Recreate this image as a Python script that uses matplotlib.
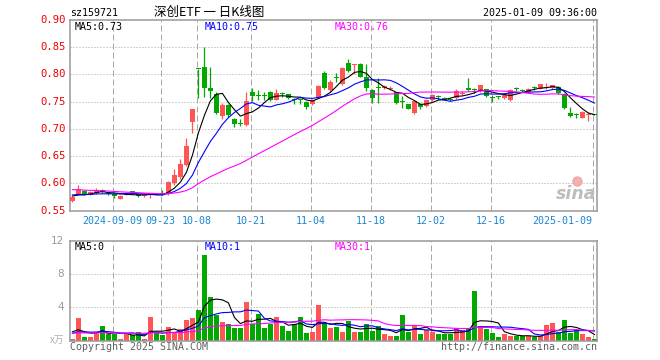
import numpy as np
import pandas as pd
import matplotlib
matplotlib.use('Agg')
import matplotlib.pyplot as plt

# daily K-line data, 159721
dates = [
    '2024-08-29', '2024-08-30', '2024-09-02', '2024-09-03', '2024-09-04', '2024-09-05', '2024-09-06',
    '2024-09-09', '2024-09-10', '2024-09-11', '2024-09-12', '2024-09-13', '2024-09-18', '2024-09-19',
    '2024-09-20', '2024-09-23', '2024-09-24', '2024-09-25', '2024-09-26', '2024-09-27', '2024-09-30',
    '2024-10-08', '2024-10-09', '2024-10-10', '2024-10-11', '2024-10-14', '2024-10-15', '2024-10-16',
    '2024-10-17', '2024-10-18', '2024-10-21', '2024-10-22', '2024-10-23', '2024-10-24', '2024-10-25',
    '2024-10-28', '2024-10-29', '2024-10-30', '2024-10-31', '2024-11-01', '2024-11-04', '2024-11-05',
    '2024-11-06', '2024-11-07', '2024-11-08', '2024-11-11', '2024-11-12', '2024-11-13', '2024-11-14',
    '2024-11-15', '2024-11-18', '2024-11-19', '2024-11-20', '2024-11-21', '2024-11-22', '2024-11-25',
    '2024-11-26', '2024-11-27', '2024-11-28', '2024-11-29', '2024-12-02', '2024-12-03', '2024-12-04',
    '2024-12-05', '2024-12-06', '2024-12-09', '2024-12-10', '2024-12-11', '2024-12-12', '2024-12-13',
    '2024-12-16', '2024-12-17', '2024-12-18', '2024-12-19', '2024-12-20', '2024-12-23', '2024-12-24',
    '2024-12-25', '2024-12-26', '2024-12-27', '2024-12-30', '2024-12-31', '2025-01-02', '2025-01-03',
    '2025-01-06', '2025-01-07', '2025-01-08', '2025-01-09',
]

opens = [
    .568, .579, .587, .579, .582, .588, .583, .580, .572, .579,
    .586, .580, .577, .578, .581, .581, .580, .600, .611, .634,
    .712, .810, .814, .775, .765, .723, .744, .718, .710, .707,
    .767, .762, .761, .767, .754, .765, .764, .754, .754, .750,
    .745, .757, .802, .772, .795, .782, .821, .818, .820, .795,
    .771, .777, .776, .774, .767, .750, .745, .730, .745, .742,
    .754, .760, .756, .755, .757, .765, .776, .772, .770, .773,
    .757, .759, .757, .754, .774, .771, .767, .777, .774, .775,
    .775, .777, .765, .730, .726, .721, .726, .726,
]
highs = [
    .576, .598, .588, .586, .592, .589, .584, .581, .578, .583,
    .587, .581, .580, .582, .582, .588, .604, .626, .645, .684,
    .737, .810, .851, .814, .767, .747, .746, .720, .718, .768,
    .775, .772, .768, .770, .773, .767, .765, .757, .757, .751,
    .755, .780, .806, .790, .802, .813, .829, .820, .821, .820,
    .773, .793, .781, .778, .768, .760, .746, .752, .748, .755,
    .764, .762, .758, .757, .774, .769, .794, .776, .781, .774,
    .762, .761, .764, .773, .777, .773, .775, .779, .783, .785,
    .781, .779, .766, .740, .730, .733, .731, .727,
]
lows = [
    .566, .578, .579, .578, .581, .583, .579, .573, .571, .578,
    .580, .576, .576, .574, .578, .578, .579, .598, .609, .632,
    .692, .756, .758, .756, .727, .718, .722, .704, .706, .706,
    .751, .754, .754, .752, .753, .758, .755, .745, .745, .737,
    .744, .756, .773, .768, .786, .780, .805, .801, .795, .770,
    .748, .748, .774, .772, .745, .739, .736, .727, .736, .740,
    .751, .755, .753, .752, .755, .763, .769, .766, .768, .758,
    .750, .755, .755, .752, .770, .767, .766, .772, .773, .773,
    .774, .765, .737, .722, .721, .720, .715, .725,
]
closes = [
    .575, .590, .580, .584, .588, .584, .580, .577, .577, .582,
    .581, .577, .579, .580, .579, .580, .603, .615, .635, .669,
    .736, .8095, .775, .769, .729, .744, .726, .710, .709, .752,
    .760, .761, .760, .754, .766, .764, .756, .753, .753, .740,
    .754, .779, .776, .787, .794, .812, .807, .819, .796, .776,
    .756, .776, .779, .776, .748, .749, .737, .751, .740, .753,
    .762, .759, .755, .754, .769, .766, .771, .771, .780, .760,
    .756, .758, .762, .771, .773, .770, .774, .776, .782, .777,
    .780, .766, .739, .724, .725, .731, .727, .725,
]
volumes = [
    0.2, 2.7, 0.4, 0.4, 0.8, 1.8, 0.85, 0.85, 0.15, 0.8,
    0.65, 1.1, 0.15, 2.9, 0.9, 0.65, 1.7, 0.9, 1.45, 2.5,
    2.67, 3.7, 10.3, 5.2, 3.1, 2.2, 1.95, 1.5, 1.5, 4.7,
    2.0, 3.15, 1.55, 2.0, 2.8, 1.75, 1.2, 1.95, 2.8, 0.97,
    1.05, 4.25, 2.0, 1.5, 1.6, 1.0, 2.4, 1.0, 1.0, 1.95,
    1.15, 1.75, 0.8, 0.55, 0.55, 3.1, 1.05, 1.9, 0.8, 1.3,
    1.05, 0.8, 0.8, 0.8, 1.5, 1.3, 1.4, 6.0, 1.75, 1.4,
    0.95, 0.5, 0.8, 0.55, 0.55, 0.55, 0.55, 0.45, 0.55, 1.9,
    2.1, 1.1, 2.5, 0.95, 1.3, 0.8, 0.45, 0.2,
]

# sessions before the visible window, only used to seed the moving averages
prior_closes = [
    .600, .598, .596, .599, .597, .595, .598, .600, .597, .594,
    .596, .598, .595, .593, .594, .588, .585, .583, .584, .582,
    .580, .583, .581, .579, .582, .580, .578, .577, .574,
]
prior_volumes = [
    0.9, 1.1, 0.7, 0.8, 1.3, 0.9, 0.6, 1.0, 1.2, 0.8,
    0.7, 0.9, 1.1, 0.8, 1.0, 0.9, 0.6, 1.2, 0.8, 0.7,
    0.9, 0.6, 0.5, 0.7, 0.8, 1.4, 1.6, 1.2, 0.9,
]

tick_dates = ['2024-09-09', '2024-09-23', '2024-10-08', '2024-10-21', '2024-11-04',
              '2024-11-18', '2024-12-02', '2024-12-16', '2025-01-09']
tick_labels = ['2024-09-09', '09-23', '10-08', '10-21', '11-04',
               '11-18', '12-02', '12-16', '2025-01-09']
price_ticks = [0.55, 0.60, 0.65, 0.70, 0.75, 0.80, 0.85, 0.90]
vol_ticks = [4, 8, 12]

RED = '#ff5555'
GREEN = '#00a800'
GRID = '#a8a8a8'
FRAME = '#999999'
MONO = 'DejaVu Sans Mono'
CJK = ['Noto Sans CJK SC', 'DejaVu Sans']

W, H = 660, 360
fig = plt.figure(figsize=(W / 100, H / 100), dpi=100)
fig.patch.set_facecolor('white')


def px_axes(x0, y0, x1, y1):
    return fig.add_axes([x0 / W, 1 - y1 / H, (x1 - x0) / W, (y1 - y0) / H])


def put(x, y, s, **kw):
    kw.setdefault('va', 'center')
    kw.setdefault('family', MONO)
    kw.setdefault('fontsize', 7.2)
    fig.text(x / W, 1 - y / H, s, **kw)


def moving(prior, values, n):
    s = pd.Series(list(prior) + list(values)).rolling(n).mean()
    return s.values[len(prior):]


x = np.arange(len(closes))
o = np.array(opens)
h = np.array(highs)
l = np.array(lows)
c = np.array(closes)
v = np.array(volumes)
cols = np.where(c >= o, RED, GREEN)
grid_x = [dates.index(d) - 0.3 for d in tick_dates]
xlim = (-0.4, 87.43)

ax = px_axes(70, 20, 597, 210.7)
axv = px_axes(70, 240.7, 597, 340.7)

for a in (ax, axv):
    a.set_xlim(*xlim)
    a.set_xticks([])
    a.set_yticks([])
    for sp in a.spines.values():
        sp.set_color(FRAME)
        sp.set_linewidth(1.1)
    for gx in grid_x:
        a.axvline(gx, color=GRID, lw=0.72, ls=(0, (6, 3)), zorder=0)

# price panel
ax.set_ylim(0.55, 0.90)
for p in price_ticks[1:-1]:
    ax.axhline(p, color=GRID, lw=0.72, ls=(0, (1, 2)), zorder=0)

ax.vlines(x, l, h, colors=cols, lw=0.9, zorder=2)
body_lo = np.minimum(o, c)
body_h = np.maximum(np.abs(c - o), 0.0019)
ax.bar(x, body_h, bottom=body_lo, width=0.8, color=cols, linewidth=0, zorder=3)

ax.plot(x, moving(prior_closes, closes, 5), color='black', lw=0.8, zorder=4)
ax.plot(x, moving(prior_closes, closes, 10), color='#0000ff', lw=0.8, zorder=4)
ax.plot(x, moving(prior_closes, closes, 30), color='#ff00ff', lw=0.8, zorder=4)

# sina watermark
ax.text(0.998, 0.085, 'sina', transform=ax.transAxes, ha='right', va='center',
        fontsize=12.5, fontweight='bold', style='italic', color='#bdbdbd', zorder=1)
ax.scatter([0.962], [0.155], transform=ax.transAxes, s=45, color='#f2b0b0',
           edgecolors='#e89a9a', linewidths=0.6, zorder=1)

# volume panel
axv.set_ylim(0, 12)
for t in vol_ticks[:-1]:
    axv.axhline(t, color=GRID, lw=0.72, ls=(0, (1, 2)), zorder=0)
axv.bar(x, v, width=0.8, color=cols, linewidth=0, zorder=2)
axv.plot(x, moving(prior_volumes, volumes, 5), color='black', lw=0.8, zorder=3)
axv.plot(x, moving(prior_volumes, volumes, 10), color='#0000ff', lw=0.8, zorder=3)
axv.plot(x, moving(prior_volumes, volumes, 30), color='#ff00ff', lw=0.8, zorder=3)

# texts
put(70, 13, 'sz159721', ha='left')
put(209, 12.5, '深创ETF 一 日K线图', ha='center', family=CJK, fontsize=9)
put(597, 13, '2025-01-09 09:36:00', ha='right')

put(75, 27, 'MA5:0.73', ha='left')
put(205, 27, 'MA10:0.75', ha='left', color='#0000ff')
put(335, 27, 'MA30:0.76', ha='left', color='#ff00ff')

put(75, 247, 'MA5:0', ha='left')
put(205, 247, 'MA10:1', ha='left', color='#0000ff')
put(335, 247, 'MA30:1', ha='left', color='#ff00ff')

for p in price_ticks:
    y = 20 + (0.90 - p) / 0.35 * 190.7
    put(66, y, f'{p:.2f}', ha='right', color='#ee0000', fontsize=7.6)

for t in vol_ticks:
    y = 340.7 - t / 12 * 100
    put(64, y, str(t), ha='right', color='#9a9a9a', family='DejaVu Sans', fontsize=7.5)
put(64, 340, 'x万', ha='right', color='#b0b0b0', family=CJK, fontsize=7)

for gx, lab in zip(grid_x, tick_labels):
    px = 72.4 + 6 * gx
    ha = 'right' if lab == tick_labels[-1] else 'center'
    put(px, 221.5, lab, ha=ha, color='#1a86d0')

put(70, 347, 'Copyright 2025 SINA.COM', ha='left', color='#606060')
put(597, 347, 'http://finance.sina.com.cn', ha='right', color='#606060')

fig.savefig('out.png', dpi=100, facecolor='white')
plt.close(fig)
